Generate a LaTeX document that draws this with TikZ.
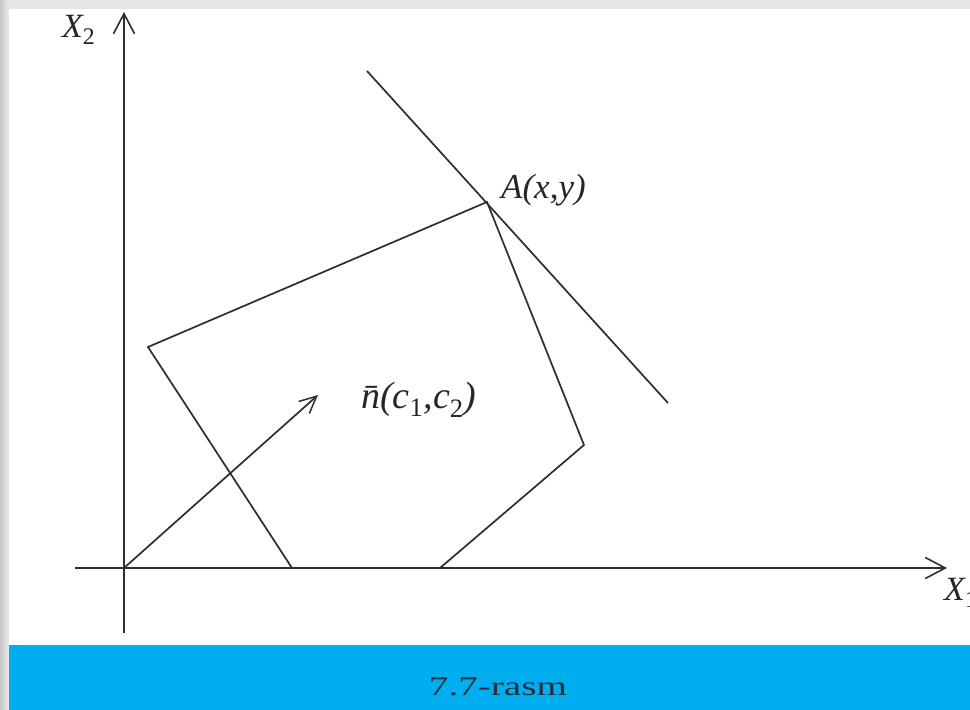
\documentclass[tikz,border=0pt]{standalone}
\usepackage{fontspec}
\setmainfont{Liberation Serif}
\usepackage{graphicx}
\usetikzlibrary{arrows.meta}
\definecolor{inkgray}{HTML}{2E2E2E}
\definecolor{barblue}{HTML}{00AEEF}
\definecolor{captxt}{HTML}{26303C}
\begin{document}
\begin{tikzpicture}[x=1pt,y=-1pt,
  axis/.style={draw=inkgray,line width=2pt,-{Straight Barb[length=20pt,width=21pt,line width=1.6pt]}},
  edge/.style={draw=inkgray,line width=1.7pt,line join=miter},
  lbl/.style={inner sep=0pt,text=black!85}]
\useasboundingbox (0,0) rectangle (970,710);
\shade[left color=black!22,right color=black!8] (0,0) rectangle (9,710);
\fill[black!10] (9,0) rectangle (970,9);
\fill[white] (9,9) rectangle (970,645);
\fill[barblue] (9,645) rectangle (970,710);
% axes
\coordinate (O) at (124,568);
\coordinate (yb) at (124,633);
\coordinate (yt) at (124,12);
\coordinate (xl) at (75,568);
\coordinate (xr) at (947,568);
\draw[axis] (yb) -- (yt);
\draw[axis] (xl) -- (xr);
% polygon
\coordinate (P1) at (292,568);
\coordinate (P2) at (148,347);
\coordinate (A) at (487,202);
\coordinate (P4) at (584,445);
\coordinate (P5) at (440,568);
\draw[edge] (P1) -- (P2) -- (A) -- (P4) -- (P5);
% tangent line
\coordinate (T1) at (367,71);
\coordinate (T2) at (668,403);
\draw[edge] (T1) -- (T2);
% normal vector
\coordinate (N) at (318,395);
\draw[edge,-{Straight Barb[length=17pt,width=16pt,line width=1.5pt]}] (O) -- (N);
% labels
\node[lbl,anchor=base west,font=\itshape\fontsize{34}{40}\selectfont] (x2lab) at (62,37) {X\textsubscript{\upshape 2}};
\node[lbl,anchor=base west,font=\itshape\fontsize{34}{40}\selectfont] (x1lab) at (944,600) {X\textsubscript{\upshape 1}};
\node[lbl,anchor=base west,font=\itshape\fontsize{35}{40}\selectfont] (alab) at (501,198) {A(x,y)};
\node[lbl,anchor=base west,font=\itshape\fontsize{38}{44}\selectfont] (nlab) at (361,408) {\={n}(c\textsubscript{\upshape 1},c\textsubscript{\upshape 2})};
\node[anchor=base,inner sep=0pt,text=captxt] (cap) at (498,695) {\scalebox{1.45}[1]{\fontsize{27}{32}\selectfont 7.7-rasm}};
\end{tikzpicture}
\end{document}
